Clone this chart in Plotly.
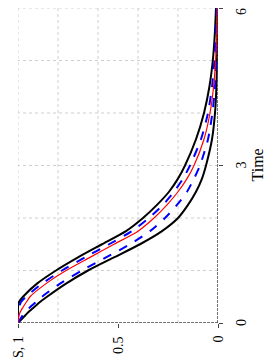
import plotly.graph_objects as go

# Time points (vertical axis in the rotated view)
time = [0, 0.1, 0.2, 0.3, 0.4, 0.5, 0.75, 1.0, 1.25, 1.5, 1.75, 2.0, 2.25, 2.5,
        2.75, 3.0, 3.5, 4.0, 4.5, 5.0, 5.5, 6.0]

# Survival estimates S(t)
upper_black = [1, 1, 1, 1, 0.995, 0.975, 0.905, 0.81, 0.70, 0.58, 0.46, 0.375, 0.305,
               0.245, 0.20, 0.165, 0.11, 0.07, 0.043, 0.026, 0.016, 0.01]
upper_blue = [1, 1, 0.999, 0.995, 0.985, 0.96, 0.88, 0.78, 0.665, 0.545, 0.43, 0.345,
              0.275, 0.22, 0.175, 0.14, 0.085, 0.05, 0.03, 0.018, 0.011, 0.006]
red_mid = [1, 0.997, 0.99, 0.975, 0.958, 0.94, 0.86, 0.76, 0.64, 0.52, 0.40, 0.32,
           0.255, 0.20, 0.155, 0.12, 0.07, 0.04, 0.022, 0.012, 0.007, 0.004]
lower_blue = [1, 0.985, 0.965, 0.94, 0.91, 0.88, 0.79, 0.68, 0.56, 0.44, 0.34, 0.265,
              0.205, 0.155, 0.12, 0.09, 0.05, 0.028, 0.015, 0.009, 0.005, 0.003]
lower_black = [1, 0.975, 0.95, 0.92, 0.89, 0.855, 0.76, 0.65, 0.52, 0.39, 0.28, 0.20,
               0.15, 0.11, 0.08, 0.06, 0.03, 0.015, 0.008, 0.005, 0.003, 0.002]

s_tickvals = [0, 0.5, 1]
s_ticktext = ["0", "0.5", "S, 1"]
t_tickvals = [0, 3, 6]
t_ticktext = ["0", "3", "6"]
s_grid = [0.2, 0.4, 0.6, 0.8, 1.0]
t_grid = [1, 2, 3, 4, 5, 6]

FONT = "Liberation Serif"

fig = go.Figure()

def add(s, color, width, dash):
    fig.add_trace(go.Scatter(x=s, y=time, mode="lines",
                             line=dict(color=color, width=width, dash=dash, shape="spline", smoothing=0.6),
                             showlegend=False, hoverinfo="skip"))

add(upper_black, "black", 2, "solid")
add(lower_black, "black", 2, "solid")
add(upper_blue, "blue", 2, "dash")
add(lower_blue, "blue", 2, "dash")
add(red_mid, "red", 1.2, "solid")

shapes = []
for g in s_grid:
    shapes.append(dict(type="line", xref="x", yref="y", x0=g, x1=g, y0=0, y1=6,
                       line=dict(color="#cfcfcf", width=1, dash="dot"), layer="below"))
for g in t_grid:
    shapes.append(dict(type="line", xref="x", yref="y", x0=0, x1=1, y0=g, y1=g,
                       line=dict(color="#cfcfcf", width=1, dash="dot"), layer="below"))
# axis lines
shapes.append(dict(type="line", xref="x", yref="y", x0=0, x1=1, y0=0, y1=0,
                   line=dict(color="#444444", width=1.5, dash="3px,1px")))
shapes.append(dict(type="line", xref="x", yref="y", x0=0, x1=0, y0=0, y1=6,
                   line=dict(color="#444444", width=1.5, dash="3px,1px")))

annotations = []
for v, txt in zip(s_tickvals, s_ticktext):
    annotations.append(dict(text=txt, xref="x", yref="paper", x=v, y=0,
                            xanchor="center", yanchor="top", yshift=-11,
                            showarrow=False, textangle=-90,
                            font=dict(family=FONT, size=14, color="black")))
t_max = max(t_tickvals)
for v, txt in zip(t_tickvals, t_ticktext):
    annotations.append(dict(text=txt, xref="paper", yref="y", x=1, y=v,
                            xanchor="center", yanchor="middle", xshift=23,
                            yshift=(-4 if v == t_max else 0),
                            showarrow=False, textangle=-90,
                            font=dict(family=FONT, size=14, color="black")))
annotations.append(dict(text="Time", xref="paper", yref="paper", x=1, y=0.5,
                        xanchor="center", yanchor="middle",
                        xshift=39, showarrow=False, textangle=-90,
                        font=dict(family=FONT, size=16, color="black")))

fig.update_layout(
    width=265, height=355,
    margin=dict(l=10, r=55, t=0, b=40, autoexpand=False),
    paper_bgcolor="white", plot_bgcolor="white",
    font=dict(family=FONT, size=14, color="black"),
    shapes=shapes,
    annotations=annotations,
    xaxis=dict(range=[1, 0], tickvals=s_tickvals, showticklabels=False,
               showgrid=False, zeroline=False, showline=False, automargin=False,
               ticks="outside", ticklen=4, tickcolor="#444444"),
    yaxis=dict(range=[0, 6], side="right", tickvals=t_tickvals, showticklabels=False,
               showgrid=False, zeroline=False, showline=False, automargin=False,
               ticks="outside", ticklen=4, tickcolor="#444444"),
)

fig.write_html("out.html")
